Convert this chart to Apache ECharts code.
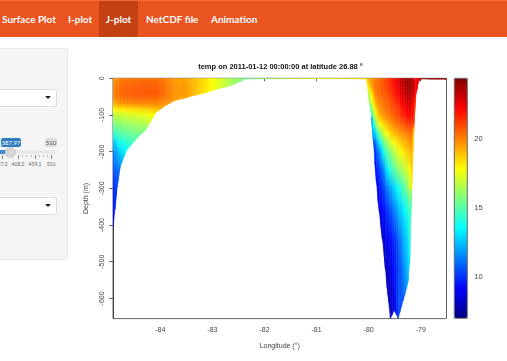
<!DOCTYPE html>
<html>
<head>
<meta charset="utf-8">
<title>J-plot</title>
<script src="https://cdn.jsdelivr.net/npm/echarts@6/dist/echarts.min.js"></script>
<style>
  html, body { margin: 0; padding: 0; background: #fff; overflow: hidden; }
  #page { position: relative; width: 507px; height: 361px; overflow: hidden; font-family: 'Lato', sans-serif; }
  #chart { position: absolute; left: 0; top: 0; width: 507px; height: 361px; }
  .nav { position: absolute; left: 0; top: 0; width: 507px; height: 37px; background: #e95420; border-top: 1px solid #f06a35; box-sizing: border-box; }
  .nav div { position: absolute; top: 0; height: 36px; line-height: 37px; color: #fff; font-size: 10px; font-weight: 700; white-space: nowrap; }
  .nav .active { left: 99px; width: 39px; background: #c34113; text-align: center; }
  .panel { position: absolute; left: -10px; top: 48px; width: 78px; height: 212px; background: #f5f5f5; border: 1px solid #e8e8e8; border-radius: 3px; box-sizing: border-box; }
  .select { position: absolute; left: -10px; width: 67px; height: 18px; background: #fff; border: 1px solid #dcdcdc; border-radius: 3px; box-sizing: border-box; }
  .select i { position: absolute; left: 54px; top: 6px; width: 0; height: 0; border: 3px solid transparent; border-top: 3px solid #222; }
  .bubble { position: absolute; top: 138px; height: 9px; line-height: 9px; font-size: 6px; text-align: center; border-radius: 2px; }
  .track { position: absolute; left: 0; top: 150px; width: 57px; height: 4px; background: #e8e8e8; border-radius: 2px; }
  .fill { position: absolute; left: 0; top: 150px; width: 8px; height: 4px; background: #428bca; }
  .knob { position: absolute; left: 5px; top: 147px; width: 11px; height: 11px; border-radius: 50%; background: #d6d6d6; border: 1px solid #c8c8c8; box-sizing: border-box; }
  .tick { position: absolute; top: 155px; width: 1px; height: 4px; background: #888; }
  .tick.minor { height: 2px; background: #bbb; }
  .lab { position: absolute; top: 161px; width: 24px; margin-left: -12px; text-align: center; font-size: 5px; line-height: 7px; color: #666; }
</style>
</head>
<body>
<div id="page">
  <div class="nav">
    <div style="left:2px">Surface Plot</div>
    <div style="left:68px">I-plot</div>
    <div class="active">J-plot</div>
    <div style="left:146px">NetCDF file</div>
    <div style="left:211px">Animation</div>
  </div>
  <div class="panel"></div>
  <div class="select" style="top:89px"><i></i></div>
  <div class="bubble" style="left:1px;width:20px;background:#2f7dbd;color:#fff">387.97</div>
  <div class="bubble" style="left:45px;width:12px;background:#ddd;color:#555">510</div>
  <div class="track"></div>
  <div class="fill"></div>
  <div class="tick" style="left:2px"></div>
  <div class="tick minor" style="left:22px"></div>
  <div class="tick minor" style="left:26px"></div>
  <div class="tick" style="left:18px"></div>
  <div class="tick minor" style="left:31px"></div>
  <div class="tick" style="left:35px"></div>
  <div class="tick minor" style="left:39px"></div>
  <div class="tick minor" style="left:43px"></div>
  <div class="tick minor" style="left:47px"></div>
  <div class="tick" style="left:51px"></div>
  <div class="knob"></div>
  <div class="lab" style="left:1px">357.3</div>
  <div class="lab" style="left:18px">408.2</div>
  <div class="lab" style="left:35px">459.1</div>
  <div class="lab" style="left:51px">510</div>
  <div class="select" style="top:197px"><i></i></div>
  <div id="chart"></div>
</div>
<script>
// 経度の列 (deg)
const lons = [
  -84.908, -84.837, -84.774, -84.645, -84.453, -84.261, -84.102, -83.942, -83.75, -83.462,
  -83.078, -82.853, -82.597, -82.374, -81.5, -80.6,
  -80.038, -80.008, -79.942, -79.879, -79.821, -79.764, -79.706, -79.649, -79.582, -79.509,
  -79.432, -79.336, -79.24, -79.207, -79.175, -79.131, -79.098, -79.048, -78.983, -78.505,
];
// 各列の海底深度 (m)
const bottoms = [
  410, 305, 242, 196, 164, 137, 96, 78, 62, 51,
  37, 27, 17, 2, 1, 1,
  2, 35, 105, 228, 332, 403, 474, 564, 655, 632,
  654, 605, 550, 487, 305, 133, 51, 10, 2, 3,
];
const depths = [0, 10, 25, 40, 55, 70, 85, 100, 125, 150, 175, 200, 250, 300, 360, 440, 520, 600, 660];
// 列ごとの水温 (depths の順)
const temps = [
  [19.4, 19.7, 19.9, 19.9, 19.7, 19, 17.8, 16.5, 15.5, 14.3, 12.5, 11.5, 10.5, 9.8, 9.2, 8.6],
  [19.6, 20, 20.2, 20.2, 20, 19.4, 18, 16.8, 15.7, 14.6, 13, 12, 10.8, 10],
  [19.8, 20.2, 20.4, 20.4, 20.2, 19.5, 18.2, 17, 15.9, 15, 13.8, 12.8, 11.2],
  [20, 20.4, 20.6, 20.6, 20.4, 19.7, 18.3, 17.1, 16.1, 15.2, 14.2, 13.4],
  [20.1, 20.5, 20.7, 20.7, 20.5, 19.8, 18.4, 17.3, 16.3, 15.5, 14.8],
  [20.2, 20.6, 20.7, 20.8, 20.5, 19.9, 18.6, 17.5, 16.5, 15.7],
  [20.2, 20.5, 20.7, 20.7, 20.5, 19.9, 18.8, 18],
  [20.1, 20.3, 20.5, 20.5, 20.2, 19.8, 19.3],
  [19.6, 19.7, 19.8, 19.8, 19.7, 19.5],
  [19.3, 19.4, 19.5, 19.5, 19.3],
  [18.2, 18.2, 18.2, 18],
  [17.3, 17.3, 17.2, 17.2],
  [16.3, 16.3, 16.2],
  [15.5, 15.5],
  [17, 17],
  [18, 18],
  [18.5, 18.5],
  [19, 18.8, 18, 17],
  [19.6, 19.6, 19.2, 18.3, 17.5, 16.5, 15.5, 14.5, 13],
  [19.8, 20.2, 20.2, 19.9, 19.4, 18.8, 17.8, 16.8, 14.8, 12.3, 10.6, 9.8, 9.3],
  [20, 20.4, 20.4, 20.3, 20, 19.7, 19.3, 18.8, 17, 14.6, 12.4, 11, 9.8, 9.2, 8.8],
  [20.3, 20.6, 20.6, 20.5, 20.3, 20, 19.7, 19.3, 18, 16, 14, 12.2, 10.5, 9.6, 8.8, 8.2],
  [20.6, 20.9, 20.9, 20.7, 20.5, 20.3, 20, 19.7, 18.5, 17, 15.2, 13.8, 11.5, 10.2, 9.3, 8.4, 8],
  [21, 21.2, 21.1, 20.9, 20.7, 20.5, 20.3, 20, 19.1, 17.8, 16.3, 15, 13, 11.2, 9.8, 8.8, 8.1, 8],
  [21.5, 21.6, 21.4, 21.2, 21, 20.8, 20.6, 20.3, 19.6, 18.5, 17, 15.8, 14, 11.9, 10.5, 9.2, 8.4, 8.2, 8],
  [22, 22, 21.9, 21.7, 21.4, 21.1, 20.9, 20.7, 20, 19, 17.8, 16.6, 15, 12.7, 11.2, 9.8, 9.4, 8.6, 8.3],
  [22.6, 22.6, 22.5, 22.2, 21.9, 21.5, 21.2, 21, 20.3, 19.4, 18.5, 17.4, 15.8, 13.6, 12.2, 10.6, 10.2, 10.5, 10.3],
  [23.5, 23.5, 23.3, 23, 22.7, 22.3, 22, 21.7, 20.8, 19.8, 19, 18.2, 16.5, 14.6, 13, 12, 11.2, 10.6, 10.2],
  [23.8, 23.9, 23.8, 23.5, 23.2, 22.8, 22.5, 22.2, 21.2, 20.2, 19.4, 18.8, 17.3, 15.8, 14, 13, 12.6, 12.2],
  [23.8, 23.9, 23.8, 23.6, 23.3, 22.9, 22.6, 22.3, 21.3, 20.3, 19.6, 19, 17.8, 16.8, 14.6, 13.4, 13],
  [23.6, 23.8, 23.7, 23.5, 23.2, 22.8, 22.5, 22.2, 21.4, 20.5, 19.8, 19.2, 18.2, 17.4, 16],
  [23, 23.3, 23.3, 23, 22.7, 22.4, 22, 21.7, 21, 20],
  [22, 22.4, 22.4, 22, 21.6],
  [22.5, 22.5, 22.5],
  [24, 24],
  [24, 24],
];
const lonTicks = [-84, -83, -82, -81, -80, -79];
const depthTicks = [0, -100, -200, -300, -400, -500, -600];
const tempTicks = [10, 15, 20];
const palette = ['#00007F', '#0000FF', '#007FFF', '#00FFFF', '#7FFF7F', '#FFFF00', '#FF7F00', '#FF0000', '#7F0000'];
const tempMin = 6.98;
const tempMax = 24.4;

const font = 'Liberation Sans';
const textColor = '#444';

const colorOf = (t) => echarts.color.lerp((t - tempMin) / (tempMax - tempMin), palette);

const tempAt = (i, j) => temps[i][j] ?? temps[i][temps[i].length - 1];

const cells = [];
for (let i = 0; i < lons.length - 1; i++) {
  for (let j = 0; j < depths.length - 1; j++) {
    if (depths[j] < Math.max(bottoms[i], bottoms[i + 1])) cells.push([i, j]);
  }
}

// 1セルを細い短冊に分けて塗る (2.5px 幅くらい)
const renderCell = (params, api) => {
  const i = api.value(0);
  const j = api.value(1);
  const pxWidth = api.size([lons[i + 1] - lons[i], 0])[0];
  const strips = Math.max(1, Math.ceil(pxWidth / 2.5));
  const children = [];
  for (let s = 0; s < strips; s++) {
    const f0 = s / strips;
    const f1 = (s + 1) / strips;
    const fm = (f0 + f1) / 2;
    const lonOf = (f) => lons[i] + (lons[i + 1] - lons[i]) * f;
    const bedOf = (f) => bottoms[i] + (bottoms[i + 1] - bottoms[i]) * f;
    const clip = (d, f) => Math.min(d, bedOf(f));
    const pts = [
      api.coord([lonOf(f0), -clip(depths[j], f0)]),
      api.coord([lonOf(f1), -clip(depths[j], f1)]),
      api.coord([lonOf(f1), -clip(depths[j + 1], f1)]),
      api.coord([lonOf(f0), -clip(depths[j + 1], f0)]),
    ];
    const topTemp = tempAt(i, j) + (tempAt(i + 1, j) - tempAt(i, j)) * fm;
    const botTemp = tempAt(i, j + 1) + (tempAt(i + 1, j + 1) - tempAt(i, j + 1)) * fm;
    const fill = new echarts.graphic.LinearGradient(0, 0, 0, 1, [
      { offset: 0, color: colorOf(topTemp) },
      { offset: 1, color: colorOf(botTemp) },
    ]);
    children.push({
      type: 'polygon',
      shape: { points: pts },
      style: { fill, stroke: fill, lineWidth: 0.5 },
    });
  }
  return { type: 'group', children };
};

const myChart = echarts.init(document.getElementById('chart'), null, { renderer: 'canvas' });

myChart.setOption({
  animation: false,
  title: {
    text: 'temp on 2011-01-12 00:00:00 at latitude 26.88 °',
    left: 275.5,
    top: 58,
    textAlign: 'center',
    textStyle: { fontFamily: font, fontSize: 7.5, fontWeight: 'bold', color: '#111' },
  },
  grid: [
    { left: 113, top: 78.3, width: 333.5, height: 240.3, show: true, borderColor: '#666', borderWidth: 1 },
    { left: 454.3, top: 78.3, width: 13, height: 240, show: true, borderColor: '#666', borderWidth: 1, z: 6 },
  ],
  xAxis: [
    {
      type: 'value',
      gridIndex: 0,
      min: -84.908,
      max: -78.505,
      position: 'bottom',
      name: 'Longitude (°)',
      nameLocation: 'middle',
      nameGap: 24,
      nameTextStyle: { fontFamily: font, fontSize: 7, color: textColor },
      axisLine: { show: false },
      splitLine: { show: false },
      axisTick: { show: true, length: 3, lineStyle: { color: '#666' }, customValues: lonTicks },
      axisLabel: { fontFamily: font, fontSize: 7, color: textColor, margin: 8, customValues: lonTicks },
    },
    { type: 'value', gridIndex: 1, min: 0, max: 1, show: false },
  ],
  yAxis: [
    {
      type: 'value',
      gridIndex: 0,
      min: -655,
      max: 0,
      name: 'Depth (m)',
      nameLocation: 'middle',
      nameGap: 23,
      nameRotate: 90,
      nameTextStyle: { fontFamily: font, fontSize: 7, color: textColor },
      axisLine: { show: true, onZero: false, lineStyle: { color: '#444' } },
      splitLine: { show: false },
      axisTick: { show: true, length: 4, lineStyle: { color: '#666' }, customValues: depthTicks },
      axisLabel: { fontFamily: font, fontSize: 7, color: textColor, rotate: 90, margin: 7, customValues: depthTicks },
    },
    {
      type: 'value',
      gridIndex: 1,
      position: 'right',
      min: tempMin,
      max: tempMax,
      axisLine: { show: false },
      splitLine: { show: false },
      axisTick: { show: true, length: 3, lineStyle: { color: '#666' }, customValues: tempTicks },
      axisLabel: { fontFamily: font, fontSize: 7.5, color: textColor, margin: 7, customValues: tempTicks },
    },
  ],
  visualMap: {
    type: 'continuous',
    min: tempMin,
    max: tempMax,
    seriesIndex: 0,
    left: 454.3,
    top: 78.3,
    padding: 0,
    itemWidth: 13,
    itemHeight: 240,
    text: ['', ''],
    textGap: 0,
    hoverLink: false,
    z: 1,
    inRange: { color: palette },
  },
  series: [
    {
      type: 'custom',
      xAxisIndex: 0,
      yAxisIndex: 0,
      coordinateSystem: 'cartesian2d',
      clip: true,
      silent: true,
      renderItem: renderCell,
      data: cells,
    },
  ],
});
</script>
</body>
</html>
